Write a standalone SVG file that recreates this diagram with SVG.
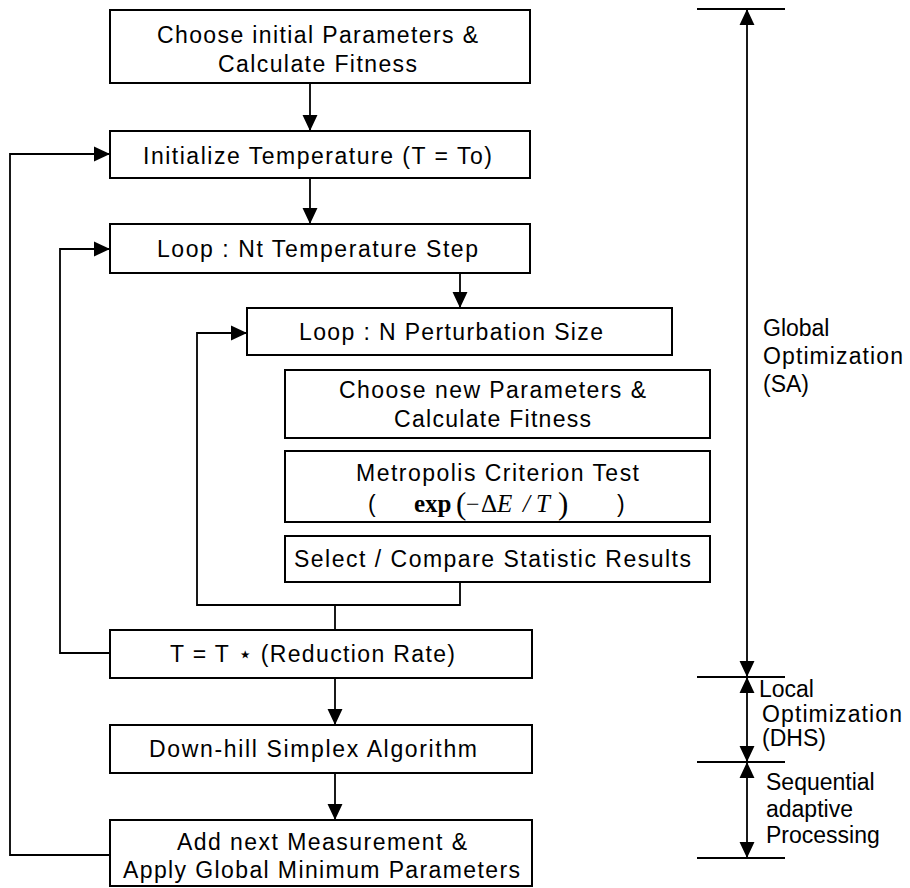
<svg xmlns="http://www.w3.org/2000/svg" width="910" height="888" viewBox="0 0 910 888">
<defs>
<style>
.box{fill:#fff;stroke:#000;stroke-width:2}
.t{font-family:"Liberation Sans",Arial,sans-serif;font-size:23px;fill:#000}
.ln{fill:none;stroke:#000;stroke-width:1.8}
.m{font-family:"Liberation Serif","Times New Roman",serif;fill:#000}
</style>
<marker id="ah" markerUnits="userSpaceOnUse" markerWidth="16" markerHeight="16" viewBox="0 0 15 14" refX="15" refY="7" orient="auto-start-reverse">
<path d="M0,0 L15,7 L0,14 z" fill="#000"/>
</marker>
</defs>
<rect width="910" height="888" fill="#fff"/>

<g id="connectors">
<line class="ln" x1="310" y1="83" x2="310" y2="131" marker-end="url(#ah)"/>
<line class="ln" x1="310" y1="178" x2="310" y2="224" marker-end="url(#ah)"/>
<line class="ln" x1="460" y1="273" x2="460" y2="308" marker-end="url(#ah)"/>
<polyline class="ln" points="460,582 460,605 197,605 197,333 247,333" marker-end="url(#ah)"/>
<line class="ln" x1="335" y1="605" x2="335" y2="630"/>
<polyline class="ln" points="110,653 60,653 60,249 110,249" marker-end="url(#ah)"/>
<line class="ln" x1="335" y1="678" x2="335" y2="725" marker-end="url(#ah)"/>
<line class="ln" x1="335" y1="773" x2="335" y2="820" marker-end="url(#ah)"/>
<polyline class="ln" points="110,855 10,855 10,154 110,154" marker-end="url(#ah)"/>
</g>

<g id="n1"><rect class="box" x="110" y="10" width="420" height="73"/>
<text class="t" x="157" y="43" textLength="321" lengthAdjust="spacing">Choose initial Parameters &amp;</text>
<text class="t" x="218" y="72" textLength="199" lengthAdjust="spacing">Calculate Fitness</text></g>

<g id="n2"><rect class="box" x="110" y="131" width="420" height="47"/>
<text class="t" x="143" y="164" textLength="349" lengthAdjust="spacing">Initialize Temperature (T = To)</text></g>

<g id="n3"><rect class="box" x="110" y="224" width="420" height="49"/>
<text class="t" x="157" y="257" textLength="321" lengthAdjust="spacing">Loop : Nt Temperature Step</text></g>

<g id="n4"><rect class="box" x="247" y="308" width="425" height="47"/>
<text class="t" x="299" y="340" textLength="304" lengthAdjust="spacing">Loop : N Perturbation Size</text></g>

<g id="n5"><rect class="box" x="285" y="370" width="425" height="68"/>
<text class="t" x="339" y="398" textLength="307" lengthAdjust="spacing">Choose new Parameters &amp;</text>
<text class="t" x="394" y="427" textLength="197" lengthAdjust="spacing">Calculate Fitness</text></g>

<g id="n6"><rect class="box" x="285" y="451" width="425" height="71"/>
<text class="t" x="356" y="481" textLength="283" lengthAdjust="spacing">Metropolis Criterion Test</text>
<text class="m" y="512" font-size="25"><tspan x="368" font-family="Liberation Sans, Arial, sans-serif" font-size="23">(</tspan><tspan x="414" font-weight="bold">exp</tspan><tspan x="456" dy="2" font-size="31">(</tspan><tspan x="466" dy="-2" font-size="24">−</tspan><tspan x="481">Δ</tspan><tspan x="497" font-style="italic">E</tspan><tspan x="523" font-style="italic">/</tspan><tspan x="536" font-style="italic">T</tspan><tspan x="558" dy="2" font-size="31">)</tspan><tspan x="617" dy="-2" font-family="Liberation Sans, Arial, sans-serif" font-size="23">)</tspan></text></g>

<g id="n7"><rect class="box" x="285" y="536" width="425" height="46"/>
<text class="t" x="294" y="567" textLength="397" lengthAdjust="spacing">Select / Compare Statistic Results</text></g>

<g id="n8"><rect class="box" x="110" y="630" width="422" height="48"/>
<text class="t" x="170" y="662" textLength="285" lengthAdjust="spacing">T = T ⋆ (Reduction Rate)</text></g>

<g id="n9"><rect class="box" x="110" y="725" width="422" height="48"/>
<text class="t" x="149" y="757" textLength="328" lengthAdjust="spacing">Down-hill Simplex Algorithm</text></g>

<g id="n10"><rect class="box" x="110" y="820" width="422" height="66"/>
<text class="t" x="177" y="850" textLength="290" lengthAdjust="spacing">Add next Measurement &amp;</text>
<text class="t" x="123" y="878" textLength="397" lengthAdjust="spacing">Apply Global Minimum Parameters</text></g>

<g id="dimensions">
<line class="ln" x1="697" y1="9" x2="785" y2="9"/>
<line class="ln" x1="697" y1="677" x2="785" y2="677"/>
<line class="ln" x1="697" y1="762" x2="785" y2="762"/>
<line class="ln" x1="697" y1="858" x2="785" y2="858"/>
<line class="ln" x1="747" y1="9" x2="747" y2="677" marker-start="url(#ah)" marker-end="url(#ah)"/>
<line class="ln" x1="747" y1="677" x2="747" y2="762" marker-start="url(#ah)" marker-end="url(#ah)"/>
<line class="ln" x1="747" y1="762" x2="747" y2="858" marker-start="url(#ah)" marker-end="url(#ah)"/>
</g>

<g id="label-global">
<text class="t" x="763" y="336">Global</text>
<text class="t" x="763" y="364" textLength="140" lengthAdjust="spacing">Optimization</text>
<text class="t" x="763" y="392">(SA)</text>
</g>
<g id="label-local">
<text class="t" x="759" y="697">Local</text>
<text class="t" x="762" y="722" textLength="140" lengthAdjust="spacing">Optimization</text>
<text class="t" x="762" y="746">(DHS)</text>
</g>
<g id="label-seq">
<text class="t" x="766" y="790">Sequential</text>
<text class="t" x="766" y="817">adaptive</text>
<text class="t" x="766" y="843">Processing</text>
</g>
</svg>
